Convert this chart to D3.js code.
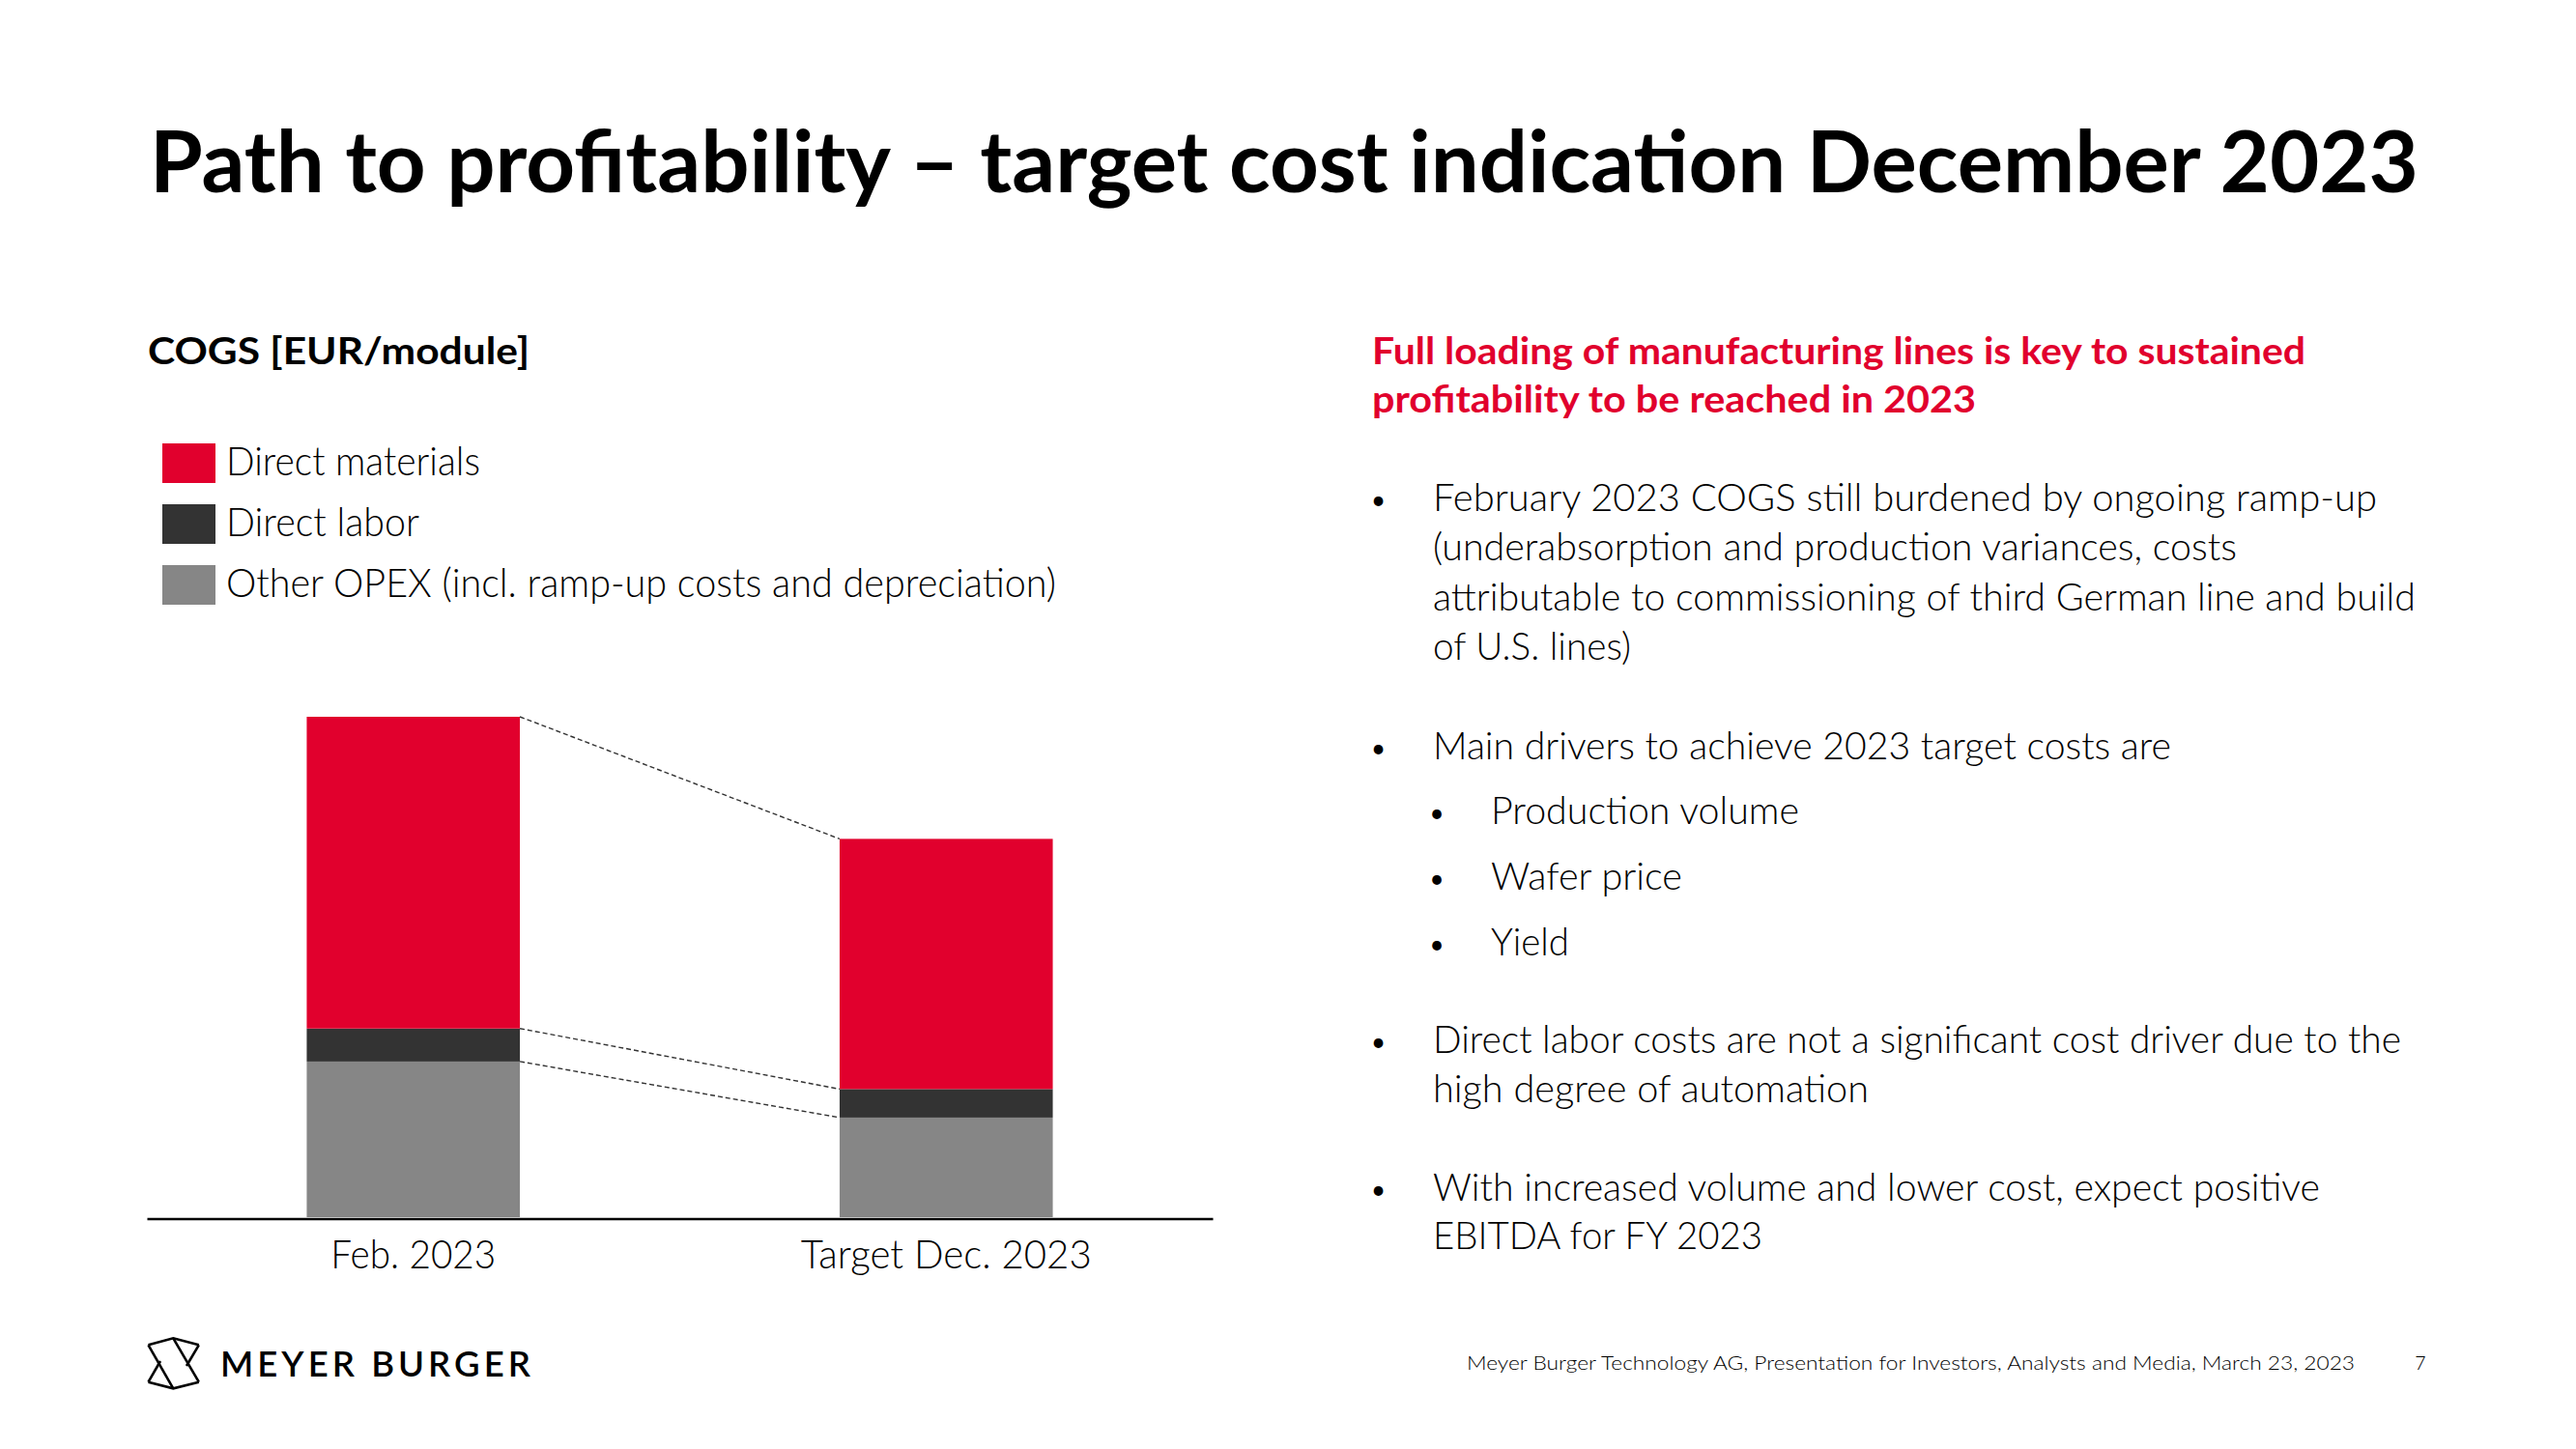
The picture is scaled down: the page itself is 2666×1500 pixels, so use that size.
<!DOCTYPE html>
<html>
<head>
<meta charset="utf-8">
<script src="https://cdn.jsdelivr.net/npm/d3@7"></script>
<style>
  html, body { margin: 0; padding: 0; background: #ffffff; }
  svg { display: block; }
  text { font-family: Lato, "Open Sans", "DejaVu Sans", sans-serif; }
</style>
</head>
<body>
<script>
// ---------------- DATA ----------------
const categories = ["Feb. 2023", "Target Dec. 2023"];
// Index values (Feb. 2023 total COGS = 100)
const otherOpex       = [31.1, 19.9];
const directLabor     = [6.6, 5.7];
const directMaterials = [62.3, 50.0];
const seriesNames  = ["Direct materials", "Direct labor", "Other OPEX (incl. ramp-up costs and depreciation)"];
const seriesColors = ["#E1002D", "#333333", "#868686"];

const titleText = "Path to profitability \u2013 target cost indication December 2023";
const chartTitle = "COGS [EUR/module]";
const headingLines = ["Full loading of manufacturing lines is key to sustained",
                      "profitability to be reached in 2023"];
const bullets = [
  {level: 0, lines: ["February 2023 COGS still burdened by ongoing ramp-up",
                     "(underabsorption and production variances, costs",
                     "attributable to commissioning of third German line and build",
                     "of U.S. lines)"]},
  {level: 0, lines: ["Main drivers to achieve 2023 target costs are"]},
  {level: 1, lines: ["Production volume"]},
  {level: 1, lines: ["Wafer price"]},
  {level: 1, lines: ["Yield"]},
  {level: 0, lines: ["Direct labor costs are not a significant cost driver due to the",
                     "high degree of automation"]},
  {level: 0, lines: ["With increased volume and lower cost, expect positive",
                     "EBITDA for FY 2023"]}
];
const footerText = "Meyer Burger Technology AG, Presentation for Investors, Analysts and Media, March 23, 2023";
const pageNumber = "7";
const brandText = "MEYER BURGER";

// ---------------- LAYOUT ----------------
const W = 2666, H = 1500;
const svg = d3.select("body").append("svg").attr("width", W).attr("height", H);
svg.append("rect").attr("width", W).attr("height", H).attr("fill", "#fff");

function fitText(sel, str, x, y, size, weight, width, fill, anchor) {
  const t = sel.append("text")
    .attr("x", x).attr("y", y)
    .attr("font-size", size)
    .attr("font-weight", weight)
    .attr("fill", fill || "#000")
    .attr("text-anchor", anchor || "start")
    .text(str);
  if (width) t.attr("textLength", width).attr("lengthAdjust", "spacingAndGlyphs");
  return t;
}

// Title
fitText(svg, titleText, 155, 199, 87.5, 700, 2348, "#000");

// Chart sub title
fitText(svg, chartTitle, 153, 377, 39, 700, 395, "#000");

// Legend
const legendY = [459, 522, 585];
const legendW = [263, 200, 859];
const lg = svg.append("g");
seriesNames.forEach((n, i) => {
  lg.append("rect").attr("x", 168).attr("y", legendY[i]).attr("width", 55).attr("height", 41)
    .attr("fill", seriesColors[i]);
  fitText(lg, n, 234, legendY[i] + 33, 40.5, 300, legendW[i], "#000");
});

// ---------------- CHART ----------------
const x = d3.scaleBand().domain(categories).range([152, 1255])
  .paddingInner(0.6).paddingOuter(0.3);
const y = d3.scaleLinear().domain([0, 100]).range([1260, 742]);

const rows = categories.map((c, i) => ({
  cat: c, opex: otherOpex[i], labor: directLabor[i], materials: directMaterials[i]
}));
const stack = d3.stack().keys(["opex", "labor", "materials"]);
const stacked = stack(rows);
const colorOf = {materials: seriesColors[0], labor: seriesColors[1], opex: seriesColors[2]};

const bars = svg.append("g");
stacked.forEach(layer => {
  bars.selectAll(null).data(layer).enter().append("rect")
    .attr("x", d => x(d.data.cat))
    .attr("width", x.bandwidth())
    .attr("y", d => y(d[1]))
    .attr("height", d => y(d[0]) - y(d[1]))
    .attr("fill", colorOf[layer.key]);
});

// dashed connectors between stacked boundaries
const conn = svg.append("g");
stacked.forEach(layer => {
  const a = layer[0], b = layer[1];
  conn.append("line")
    .attr("x1", x(categories[0]) + x.bandwidth())
    .attr("y1", y(a[1]))
    .attr("x2", x(categories[1]))
    .attr("y2", y(b[1]))
    .attr("stroke", "#333")
    .attr("stroke-width", 1.4)
    .attr("stroke-dasharray", "5,3");
});

// x axis
const axisG = svg.append("g").attr("transform", "translate(0,1261.5)")
  .call(d3.axisBottom(x).tickSize(0).tickSizeOuter(0).tickPadding(0));
axisG.select(".domain").attr("stroke", "#000").attr("stroke-width", 2.6);
const tickW = {"Feb. 2023": 171, "Target Dec. 2023": 301};
axisG.selectAll(".tick text")
  .attr("y", 51).attr("dy", null)
  .attr("font-size", 40.5)
  .attr("font-weight", 300)
  .attr("font-family", "Lato, 'Open Sans', sans-serif")
  .attr("fill", "#000")
  .attr("textLength", d => tickW[d])
  .attr("lengthAdjust", "spacingAndGlyphs");

// ---------------- RIGHT TEXT ----------------
const red = "#E1002D";
fitText(svg, headingLines[0], 1420, 377, 39, 700, 966, red);
fitText(svg, headingLines[1], 1420, 427, 39, 700, 625, red);

const bulletLayout = [
  {y: [529, 580, 632, 683], w: [977, 832, 1017, 205]},
  {y: [786], w: [764]},
  {y: [853], w: [319]},
  {y: [921], w: [198]},
  {y: [989], w: [81]},
  {y: [1090, 1141], w: [1002, 451]},
  {y: [1243, 1293], w: [918, 341]}
];
const bg = svg.append("g");
bullets.forEach((b, i) => {
  const L = bulletLayout[i];
  const dotX = b.level === 0 ? 1426.5 : 1487;
  const txtX = b.level === 0 ? 1483 : 1543;
  bg.append("text").attr("x", dotX).attr("y", L.y[0] - 2).attr("font-size", 26)
    .attr("font-weight", 400).attr("fill", "#000").attr("text-anchor", "middle").text("\u2022");
  b.lines.forEach((ln, j) => {
    fitText(bg, ln, txtX, L.y[j], 39.5, 300, L.w[j], "#000");
  });
});

// ---------------- FOOTER ----------------
fitText(svg, footerText, 1518, 1418, 19.5, 300, 919, "#000");
fitText(svg, pageNumber, 2505, 1418, 19.5, 300, null, "#000", "middle");

// logo mark
const logo = svg.append("g").attr("fill", "none").attr("stroke", "#000")
  .attr("stroke-width", 2.6).attr("stroke-linejoin", "miter");
logo.append("path").attr("d", "M153.5,1392.3 L179.3,1385.3 L205.8,1392.3");
logo.append("path").attr("d", "M153.5,1430.7 L179.3,1437.3 L205.8,1430.7");
logo.append("path").attr("d", "M153.5,1392.3 L179.3,1437.3");
logo.append("path").attr("d", "M179.3,1385.3 L205.8,1430.7");
logo.append("path").attr("d", "M153.5,1430.7 L166,1409");
logo.append("path").attr("d", "M205.8,1392.3 L193,1414");
fitText(svg, brandText, 228, 1425, 36, 600, 325, "#000").attr("letter-spacing", 4);
</script>
</body>
</html>
